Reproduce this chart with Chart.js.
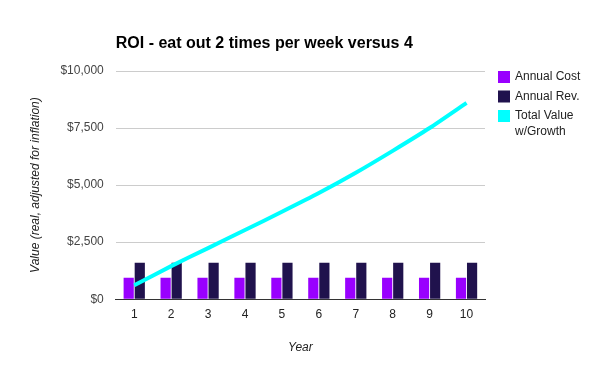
<!DOCTYPE html>
<html lang="en">
  <head>
    <meta charset="UTF-8" />
    <title>ROI - eat out 2 times per week versus 4</title>
    <script src="https://cdn.jsdelivr.net/npm/chart.js"></script>
    <style>
      body {
        margin: 0;
        background: #fff;
      }
      #wrap {
        width: 600px;
        height: 371px;
      }
    </style>
  </head>
  <body>
    <div id="wrap"><canvas id="roi-chart"></canvas></div>

    <script>
      // data
      const years = ["1", "2", "3", "4", "5", "6", "7", "8", "9", "10"];
      const annualCost = [940, 940, 940, 940, 940, 940, 940, 940, 940, 940];
      const annualRev = [1600, 1600, 1600, 1600, 1600, 1600, 1600, 1600, 1600, 1600];
      const totalValue = [610, 1450, 2240, 3030, 3830, 4650, 5540, 6500, 7500, 8600];
      const yTicks = [0, 2500, 5000, 7500, 10000];

      const font = "Arial, 'Liberation Sans', sans-serif";

      // title over the plot area and legend at the right, with the long label wrapped
      const decorations = {
        id: "decorations",
        afterDraw(chart) {
          const ctx = chart.ctx;
          ctx.save();
          ctx.textBaseline = "middle";
          ctx.fillStyle = "#000";
          ctx.font = "bold 16px " + font;
          ctx.fillText("ROI - eat out 2 times per week versus 4", chart.chartArea.left, 44);

          const items = [
            { lines: ["Annual Cost"], color: "#9900ff" },
            { lines: ["Annual Rev."], color: "#20124d" },
            { lines: ["Total Value", "w/Growth"], color: "#00ffff" },
          ];
          ctx.font = "12px " + font;
          let y = 77;
          items.forEach((it) => {
            ctx.fillStyle = it.color;
            ctx.fillRect(498, y - 6, 12, 12);
            ctx.fillStyle = "#222";
            it.lines.forEach((ln, i) => {
              ctx.fillText(ln, 515, y + i * 16);
            });
            y += 19.5;
          });
          ctx.restore();
        },
      };

      const ctx = document.getElementById("roi-chart").getContext("2d");
      new Chart(ctx, {
        type: "bar",
        data: {
          labels: years,
          datasets: [
            {
              type: "line",
              label: "Total Value w/Growth",
              data: totalValue,
              borderColor: "#00ffff",
              backgroundColor: "#00ffff",
              borderWidth: 4,
              pointRadius: 0,
              tension: 0.2,
              order: 0,
            },
            {
              label: "Annual Cost",
              data: annualCost,
              backgroundColor: "#9900ff",
              categoryPercentage: 0.6,
              barPercentage: 0.92,
              order: 1,
            },
            {
              label: "Annual Rev.",
              data: annualRev,
              backgroundColor: "#20124d",
              categoryPercentage: 0.6,
              barPercentage: 0.92,
              order: 1,
            },
          ],
        },
        options: {
          responsive: true,
          maintainAspectRatio: false,
          animation: false,
          layout: {
            padding: { left: 24, right: 115, top: 71, bottom: 12 },
          },
          plugins: {
            legend: { display: false },
            tooltip: { enabled: false },
            title: { display: false },
          },
          scales: {
            x: {
              grid: { display: false },
              border: { display: true, color: "#333", width: 1 },
              ticks: { color: "#222", font: { family: font, size: 12 }, padding: 0 },
              title: {
                display: true,
                text: "Year",
                color: "#222",
                font: { family: font, size: 12, style: "italic" },
                padding: { top: 19 },
              },
            },
            y: {
              min: 0,
              max: 10000,
              afterBuildTicks(axis) {
                axis.ticks = yTicks.map((v) => ({ value: v }));
              },
              grid: { color: "#cccccc", drawTicks: false },
              border: { display: false },
              ticks: {
                color: "#444",
                font: { family: font, size: 12 },
                padding: 12,
                callback: (v) => "$" + Number(v).toLocaleString("en-US"),
              },
              title: {
                display: true,
                text: "Value (real, adjusted for inflation)",
                color: "#222",
                font: { family: font, size: 12, style: "italic" },
                padding: { bottom: 6 },
              },
            },
          },
        },
        plugins: [decorations],
      });
    </script>
  </body>
</html>
